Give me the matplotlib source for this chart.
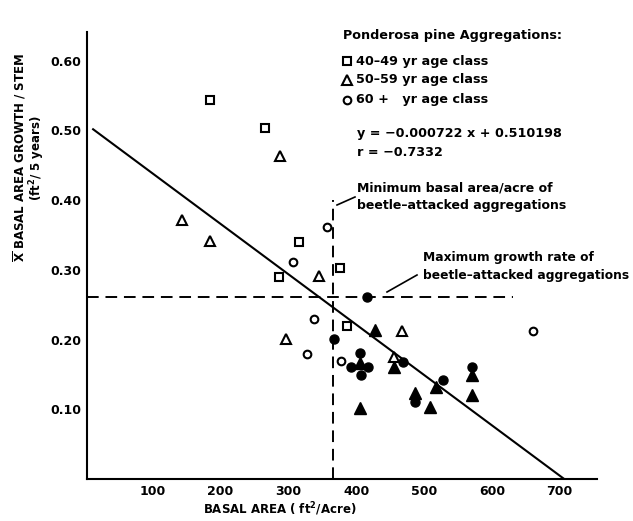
import numpy as np
import matplotlib
matplotlib.use("Agg")
import matplotlib.pyplot as plt

# data (basal area ft2/acre, growth ft2 / 5 yr)
sq_x = [184, 265, 316, 376, 286, 386]
sq_y = [0.543, 0.503, 0.340, 0.303, 0.290, 0.219]

tri_x = [288, 143, 184, 345, 467, 296, 456]
tri_y = [0.463, 0.371, 0.341, 0.291, 0.212, 0.201, 0.175]

circ_x = [357, 307, 337, 661, 327, 377]
circ_y = [0.361, 0.311, 0.229, 0.212, 0.179, 0.169]

# filled = beetle-attacked aggregations
ftri_x = [428, 406, 456, 518, 571, 571, 487, 509, 406]
ftri_y = [0.214, 0.167, 0.160, 0.132, 0.149, 0.121, 0.123, 0.103, 0.102]

fcirc_x = [416, 367, 406, 393, 418, 407, 469, 528, 571, 487]
fcirc_y = [0.261, 0.201, 0.181, 0.160, 0.160, 0.149, 0.168, 0.142, 0.160, 0.110]

slope = -0.000722
intercept = 0.510198
min_ba = 366        # minimum basal area of attacked aggregations
max_growth = 0.261  # maximum growth rate of attacked aggregations

xticks = [100, 200, 300, 400, 500, 600, 700]
yticks = [0.10, 0.20, 0.30, 0.40, 0.50, 0.60]

W, H = 633, 521
def fx(px):
    return px / W
def fy(py):
    return 1 - py / H

fnt = dict(family="DejaVu Sans", fontweight="bold")

fig = plt.figure(figsize=(W / 100, H / 100), dpi=100)
ax = fig.add_axes([fx(87), fy(479), (597 - 87) / W, (479 - 32) / H])

# regression line
xl = np.array([12, 708])
ax.plot(xl, slope * xl + intercept, color="black", lw=1.5)

# dashed reference lines
ax.plot([3, 631], [max_growth, max_growth], color="black", lw=1.4, ls=(0, (6, 3.5)))
ax.plot([min_ba, min_ba], [0, 0.40], color="black", lw=1.4, ls=(0, (6, 3.5)))

ms_open = 6
ax.plot(sq_x, sq_y, ls="none", marker="s", ms=ms_open - 0.5, mfc="white", mec="black", mew=1.5)
ax.plot(tri_x, tri_y, ls="none", marker="^", ms=ms_open + 1, mfc="white", mec="black", mew=1.5)
ax.plot(circ_x, circ_y, ls="none", marker="o", ms=ms_open - 0.5, mfc="white", mec="black", mew=1.5)
ax.plot(ftri_x, ftri_y, ls="none", marker="^", ms=8, color="black")
ax.plot(fcirc_x, fcirc_y, ls="none", marker="o", ms=6.5, color="black")

ax.set_xlim(3, 755)
ax.set_ylim(0, 0.641)
ax.set_xticks(xticks)
ax.set_xticklabels([str(v) for v in xticks], fontsize=9, **fnt)
ax.set_yticks(yticks)
ax.set_yticklabels(["%.2f" % v for v in yticks], fontsize=9, **fnt)
ax.tick_params(axis="x", length=0, pad=4)
ax.tick_params(axis="y", length=0, pad=4)
for s in ["top", "right"]:
    ax.spines[s].set_visible(False)
for s in ["left", "bottom"]:
    ax.spines[s].set_linewidth(1.5)

# axis labels
fig.text(fx(280), fy(509), "BASAL AREA ( ft$^\\mathbf{2}$/Acre)", ha="center", va="center",
         fontsize=8.5, **fnt)
fig.text(fx(20), fy(158), "$\\overline{\\mathbf{X}}$ BASAL AREA GROWTH / STEM", rotation=90,
         ha="center", va="center", fontsize=8.5, **fnt)
fig.text(fx(37), fy(158), "(ft$^\\mathbf{2}$/ 5 years)", rotation=90,
         ha="center", va="center", fontsize=8.5, **fnt)

# legend
fig.text(fx(343), fy(36), "Ponderosa pine Aggregations:", va="center", fontsize=9.2, **fnt)
leg = [("s", "40\u201349 yr age class", 61, 5.5),
       ("^", "50\u201359 yr age class", 80, 7),
       ("o", "60 +   yr age class", 100, 5.5)]
for mk, lab, py, ms in leg:
    fig.lines.append(plt.Line2D([fx(347)], [fy(py)], marker=mk, ms=ms, mfc="white",
                                mec="black", mew=1.5, transform=fig.transFigure))
    fig.text(fx(356), fy(py), lab, va="center", fontsize=9.2, **fnt)

fig.text(fx(357), fy(133), "y = \u22120.000722 x + 0.510198", va="center", fontsize=9.2, **fnt)
fig.text(fx(357), fy(153), "r = \u22120.7332", va="center", fontsize=9.2, **fnt)

# annotations
fig.text(fx(357), fy(188), "Minimum basal area/acre of", va="center", fontsize=9, **fnt)
fig.text(fx(357), fy(205), "beetle\u2013attacked aggregations", va="center", fontsize=9, **fnt)
fig.lines.append(plt.Line2D([fx(337), fx(355)], [fy(205), fy(197)], color="black", lw=1.2,
                            transform=fig.transFigure))

fig.text(fx(423), fy(258), "Maximum growth rate of", va="center", fontsize=8.8, **fnt)
fig.text(fx(423), fy(276), "beetle\u2013attacked aggregations", va="center", fontsize=8.8, **fnt)
fig.lines.append(plt.Line2D([fx(387), fx(417)], [fy(292), fy(275)], color="black", lw=1.2,
                            transform=fig.transFigure))

fig.savefig("out.png", dpi=100)
